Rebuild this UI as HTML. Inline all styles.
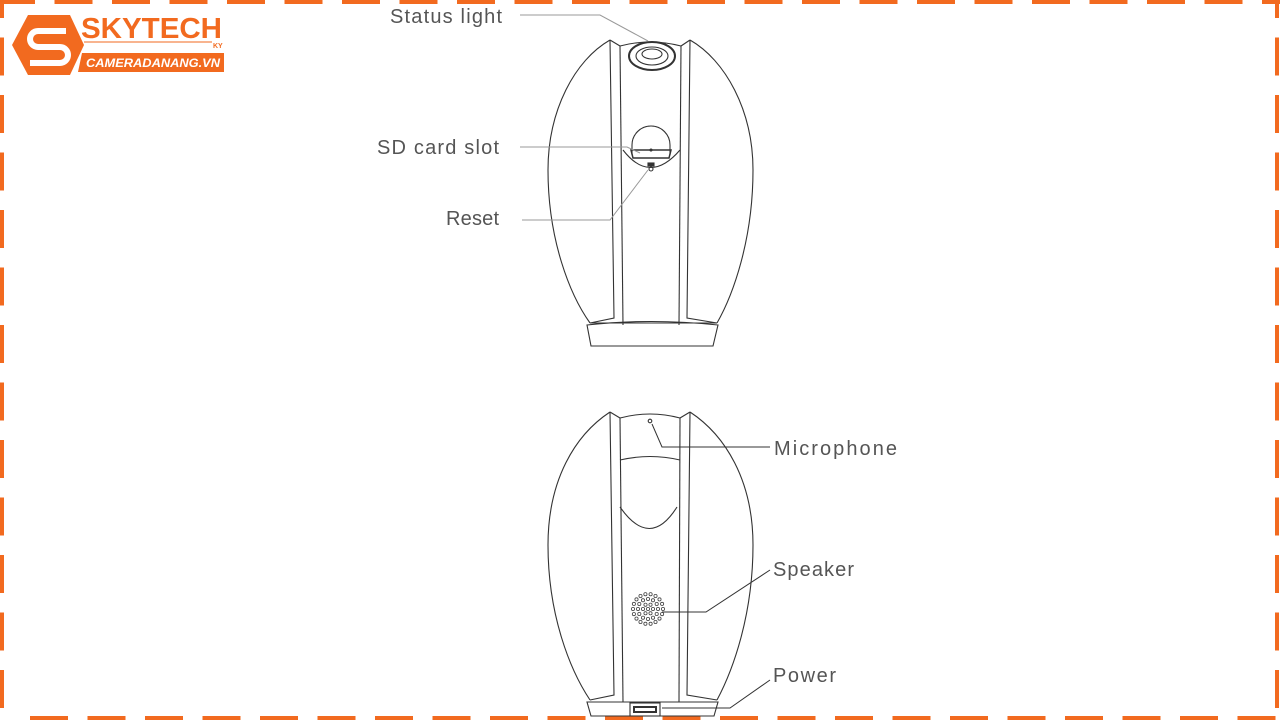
<!DOCTYPE html>
<html><head><meta charset="utf-8"><style>
html,body{margin:0;padding:0;background:#fff;}
svg{display:block;}
text{font-family:"Liberation Sans",sans-serif;}
</style></head><body>
<svg width="1280" height="720" viewBox="0 0 1280 720" xmlns="http://www.w3.org/2000/svg">
<!-- border -->
<g stroke="#f26a1f" stroke-width="4" fill="none" stroke-dasharray="38 19.5">
<line x1="-3" y1="2" x2="1280" y2="2"/>
<line x1="30" y1="718" x2="1280" y2="718" />
<line x1="2" y1="-20" x2="2" y2="720"/>
<line x1="1277" y1="-20" x2="1277" y2="720"/>
</g>
<!-- logo -->
<g>
<polygon points="28,15 70,15 84,45 70,75 28,75 12,45" fill="#f26a1f"/>
<path d="M66,31 H38 a8,8 0 0 0 0,16 H60 a8,8 0 0 1 0,16 H30" stroke="#fff" stroke-width="6" fill="none"/>
<text x="81" y="38" font-size="29" font-weight="bold" fill="#f26a1f" textLength="141" lengthAdjust="spacingAndGlyphs">SKYTECH</text>
<line x1="84" y1="42" x2="212" y2="42" stroke="#f26a1f" stroke-width="1"/>
<text x="213" y="48" font-size="7" font-weight="bold" fill="#f26a1f">KY</text>
<polygon points="82,53 224,53 224,72 78,72" fill="#f26a1f"/>
<text x="86" y="67" font-size="12" font-weight="bold" font-style="italic" fill="#fff" textLength="134" lengthAdjust="spacingAndGlyphs">CAMERADANANG.VN</text>
</g>

<g stroke="#333" stroke-width="1.1" fill="none">
<!-- top camera -->
<path d="M610,40 C575,60 548,110 548,170 C548,240 570,295 590,323"/>
<path d="M690,40 C725,60 753,110 753,170 C753,240 733,295 717,323"/>
<path d="M610,40 L614,318 L590,323"/>
<path d="M620,46 L623,325"/>
<path d="M610,40 L620,46"/>
<path d="M690,40 L687,318 L717,323"/>
<path d="M681,46 L679,325"/>
<path d="M690,40 L681,46"/>
<path d="M620,46 Q650,38 681,46"/>
<line x1="590" y1="323" x2="717" y2="323"/>
<ellipse cx="652" cy="56" rx="23" ry="14" stroke-width="2"/>
<ellipse cx="652" cy="56" rx="16" ry="9"/>
<ellipse cx="652" cy="54" rx="10" ry="5"/>
<path d="M632,155 L632,145 A19,19 0 0 1 670,145 L670,155"/>
<path d="M631,150 H671 L669,158 H633 Z" stroke-width="1.5"/>
<path d="M623,150 Q650,185 680,150"/>
<circle cx="651" cy="150" r="1" fill="#333"/>
<rect x="648" y="163" width="6" height="3" fill="#333"/>
<circle cx="651" cy="169" r="2"/>
<path d="M587,325 Q650,318 718,325 L713,346 L591,346 Z"/>
<!-- bottom camera -->
<path d="M610,412 C575,435 548,480 548,545 C548,615 570,670 590,700"/>
<path d="M690,412 C725,435 753,480 753,545 C753,615 733,670 717,700"/>
<path d="M610,412 L614,695 L590,700"/>
<path d="M620,418 L623,702"/>
<path d="M610,412 L620,418"/>
<path d="M690,412 L687,695 L717,700"/>
<path d="M680,418 L679,702"/>
<path d="M690,412 L680,418"/>
<path d="M620,418 Q650,410 680,418"/>
<circle cx="650" cy="421" r="1.8"/>
<path d="M620,460 Q650,453 680,460"/>
<path d="M620,507 Q650,550 677,507"/>
<path d="M587,702 L718,702 L714,716 L591,716 Z"/>
<rect x="630" y="703" width="30" height="13"/>
<rect x="634" y="707" width="22" height="5" stroke-width="2"/>
</g>
<!-- speaker holes -->
<g fill="none" stroke="#444" stroke-width="0.8" transform="translate(648,609)">
<circle cx="0" cy="0" r="1.6"/>
<circle cx="5" cy="0" r="1.6"/><circle cx="2.5" cy="4.3" r="1.6"/><circle cx="-2.5" cy="4.3" r="1.6"/><circle cx="-5" cy="0" r="1.6"/><circle cx="-2.5" cy="-4.3" r="1.6"/><circle cx="2.5" cy="-4.3" r="1.6"/>
<circle cx="10" cy="0" r="1.6"/><circle cx="8.7" cy="5" r="1.6"/><circle cx="5" cy="8.7" r="1.6"/><circle cx="0" cy="10" r="1.6"/><circle cx="-5" cy="8.7" r="1.6"/><circle cx="-8.7" cy="5" r="1.6"/><circle cx="-10" cy="0" r="1.6"/><circle cx="-8.7" cy="-5" r="1.6"/><circle cx="-5" cy="-8.7" r="1.6"/><circle cx="0" cy="-10" r="1.6"/><circle cx="5" cy="-8.7" r="1.6"/><circle cx="8.7" cy="-5" r="1.6"/>
<circle cx="15" cy="0" r="1.6"/><circle cx="14.1" cy="5.1" r="1.6"/><circle cx="11.5" cy="9.6" r="1.6"/><circle cx="7.5" cy="13" r="1.6"/><circle cx="2.6" cy="14.8" r="1.6"/><circle cx="-2.6" cy="14.8" r="1.6"/><circle cx="-7.5" cy="13" r="1.6"/><circle cx="-11.5" cy="9.6" r="1.6"/><circle cx="-14.1" cy="5.1" r="1.6"/><circle cx="-15" cy="0" r="1.6"/><circle cx="-14.1" cy="-5.1" r="1.6"/><circle cx="-11.5" cy="-9.6" r="1.6"/><circle cx="-7.5" cy="-13" r="1.6"/><circle cx="-2.6" cy="-14.8" r="1.6"/><circle cx="2.6" cy="-14.8" r="1.6"/><circle cx="7.5" cy="-13" r="1.6"/><circle cx="11.5" cy="-9.6" r="1.6"/><circle cx="14.1" cy="-5.1" r="1.6"/>
</g>
<!-- leaders -->
<g stroke="#999" stroke-width="1" fill="none">
<path d="M520,15 H600 L648,41"/>
<path d="M520,147 H627 L640,153"/>
<path d="M522,220 H610 L648,170"/>
</g>
<g stroke="#333" stroke-width="1" fill="none">
<path d="M770,447 H662 L652,424"/>
<path d="M770,570 L706,612 H662"/>
<path d="M770,680 L730,708 H662"/>
</g>
<g font-size="20" fill="#555" lengthAdjust="spacingAndGlyphs">
<text x="390" y="23" textLength="112">Status light</text>
<text x="377" y="154" textLength="122">SD card slot</text>
<text x="446" y="225" textLength="53">Reset</text>
<text x="774" y="455" textLength="123">Microphone</text>
<text x="773" y="576" textLength="81">Speaker</text>
<text x="773" y="682" textLength="63">Power</text>
</g>
</svg>
</body></html>
